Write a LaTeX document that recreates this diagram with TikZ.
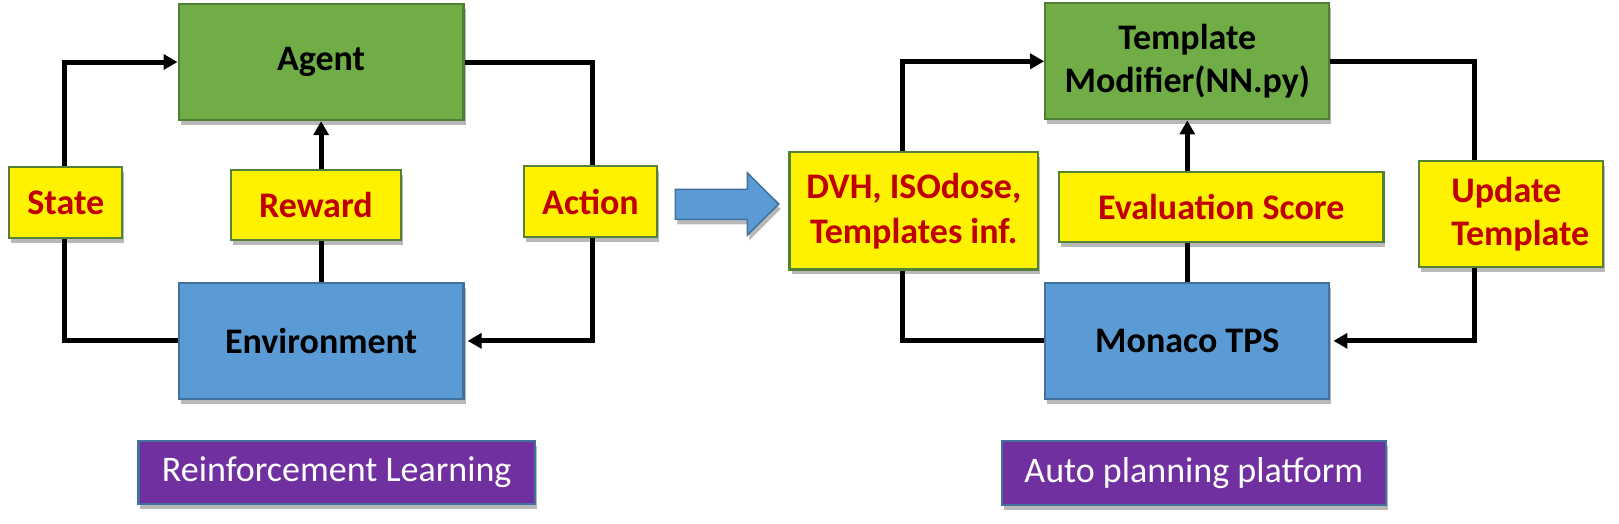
\documentclass[tikz,border=0pt]{standalone}
\usepackage{fontspec}
\setmainfont{Carlito}
\usetikzlibrary{arrows.meta,shadows}
\definecolor{agreen}{HTML}{70AD47}
\definecolor{agreenb}{HTML}{507E32}
\definecolor{ablue}{HTML}{5B9BD5}
\definecolor{ablueb}{HTML}{41719C}
\definecolor{ayellowb}{HTML}{538135}
\definecolor{ared}{HTML}{C00000}
\definecolor{apurple}{HTML}{7030A0}
\tikzset{
  shad/.style={drop shadow={shadow xshift=2pt, shadow yshift=-5pt, opacity=0.28, fill=black}},
  box/.style={draw, line width=2.3pt, inner sep=0pt, align=center, shad,
    font=\fontsize{36}{43}\selectfont\bfseries},
  greenbox/.style={box, fill=agreen, draw=agreenb},
  bluebox/.style={box, fill=ablue, draw=ablueb},
  ybox/.style={box, fill=yellow, draw=ayellowb, text=ared},
  pbox/.style={draw=ablueb, line width=2.3pt, fill=apurple, text=white, inner sep=0pt, shad,
    font=\fontsize{36}{43}\selectfont},
  line/.style={line width=5pt, black},
  conn/.style={line, -{Triangle[length=14pt,width=15pt]}},
}
\begin{document}
\begin{tikzpicture}[x=1pt, y=-1pt]
\useasboundingbox (0,0) rectangle (1619,523);
% left diagram
\node[greenbox, minimum width=284.8pt, minimum height=116pt] (agent) at (321.1,62) {Agent};
\node[bluebox, minimum width=284.8pt, minimum height=116.3pt] (env) at (321.1,340.85) {Environment};
\node[ybox, minimum width=113pt, minimum height=71.6pt] (state) at (65.8,202.5) {State};
\node[ybox, minimum width=170.2pt, minimum height=70pt] (reward) at (315.9,205) {Reward};
\node[ybox, minimum width=133.6pt, minimum height=71.6pt] (action) at (590.5,201.5) {Action};
\coordinate (llx) at (64.3,0);
\coordinate (lrx) at (592,0);
\draw[conn] (llx |- state.north) |- (agent.west);
\draw[line] (llx |- state.south) |- (env.west);
\draw[conn] (reward.north -| agent.south) -- (agent.south);
\draw[line] (env.north) -- (env.north |- reward.south);
\draw[line] (agent.east) -| (lrx |- action.north);
\draw[conn, shorten >=3pt] (lrx |- action.south) |- (env.east);
% block arrow
\draw[fill=ablue, draw=ablueb, line width=1.5pt, line join=miter, shad]
  (675.3,189.3) -- (747.3,189.3) -- (747.3,172.7) -- (778.7,204) -- (747.3,235.3)
  -- (747.3,219.3) -- (675.3,219.3) -- cycle;
% right diagram
\node[greenbox, minimum width=284pt, minimum height=116pt] (tmod) at (1187.3,61.3) {Template\\Modifier(NN.py)};
\node[bluebox, minimum width=284pt, minimum height=116.3pt] (monaco) at (1187.3,340.85) {Monaco TPS};
\node[ybox, minimum width=248.5pt, minimum height=117.3pt, font=\fontsize{36}{45}\selectfont\bfseries] (dvh) at (913.8,210.7) {DVH, ISOdose,\\Templates inf.};
\node[ybox, minimum width=324.3pt, minimum height=70pt] (eval) at (1221.2,206.7) {Evaluation Score};
\node[ybox, minimum width=184pt, minimum height=105.7pt, align=left] (update) at (1511.3,213.8) {\hspace*{18pt}Update\\\hspace*{18pt}Template};
\coordinate (rlx) at (902,0);
\coordinate (rrx) at (1474.7,0);
\draw[conn] (rlx |- dvh.north) |- (tmod.west);
\draw[line] (rlx |- dvh.south) |- (monaco.west);
\draw[conn] (eval.north -| tmod.south) -- (tmod.south);
\draw[line] (monaco.north) -- (monaco.north |- eval.south);
\draw[line] (tmod.east) -| (rrx |- update.north);
\draw[conn, shorten >=3pt] (rrx |- update.south) |- (monaco.east);
% captions
\node[pbox, minimum width=396.7pt, minimum height=63pt] (rl) at (336.7,472.5) {Reinforcement Learning};
\node[pbox, minimum width=384.3pt, minimum height=64pt] (ap) at (1193.8,473) {Auto planning platform};
\end{tikzpicture}
\end{document}
